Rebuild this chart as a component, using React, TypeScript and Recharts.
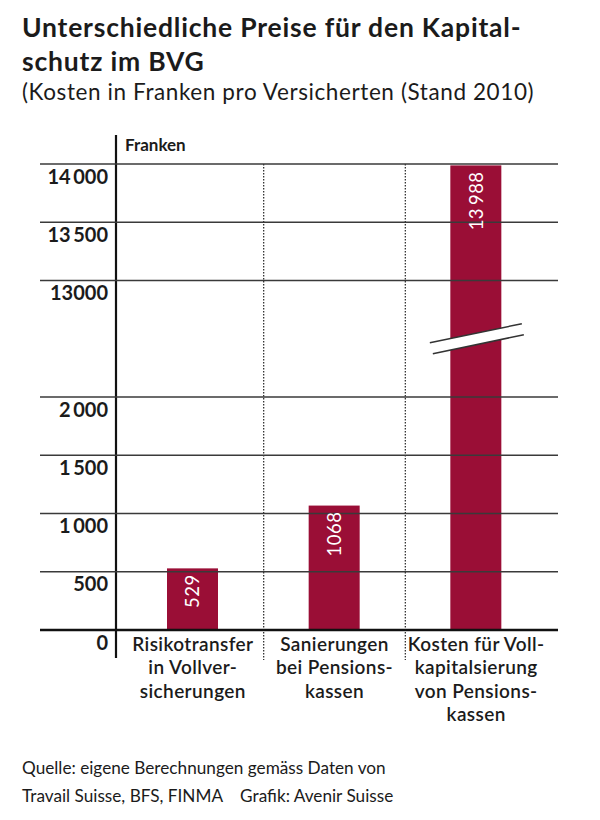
import React from "react";
import { BarChart, Bar, XAxis, YAxis, LabelList } from "recharts";

// ---- data ----
const categoryKeys = ["Risikotransfer", "Sanierungen", "Vollkapitalisierung"];
const categoryLines = [
  ["Risikotransfer", "in Vollver-", "sicherungen"],
  ["Sanierungen", "bei Pensions-", "kassen"],
  ["Kosten für Voll-", "kapitalsierung", "von Pensions-", "kassen"],
];
const values = [529, 1068, 13988];
const valueLabels = ["529", "1068", "13\u2009988"];
const tickValues = [0, 500, 1000, 1500, 2000, 13000, 13500, 14000];
const tickLabels = ["0", "500", "1\u2009000", "1\u2009500", "2\u2009000", "13000", "13\u2009500", "14\u2009000"];
const axisMax = 14000;

// axis break: values between BREAK_FROM and BREAK_TO are collapsed to BREAK_SPAN units
const BREAK_FROM = 2000;
const BREAK_TO = 13000;
const BREAK_SPAN = 1000;

const toAxis = (v: number) =>
  v <= BREAK_FROM
    ? v
    : v >= BREAK_TO
    ? v - (BREAK_TO - BREAK_FROM) + BREAK_SPAN
    : BREAK_FROM + ((v - BREAK_FROM) / (BREAK_TO - BREAK_FROM)) * BREAK_SPAN;

const data = categoryKeys.map((k, i) => ({
  name: k,
  axisValue: toAxis(values[i]),
  value: values[i],
  label: valueLabels[i],
  lines: categoryLines[i],
  broken: values[i] > BREAK_TO,
}));

// ---- layout / style ----
const FONT = "Lato, 'Open Sans', sans-serif";
const TEXT = "#1b1b1b";
const BAR = "#9a0e36";
const GRID = "#3a3a3a";
const W = 600;
const H = 820;
const M = { top: 164, right: 42, bottom: 90, left: 40 };
const YAXIS_W = 76;
const XAXIS_H = 100;
const PAD_L = 6;
const PAD_R = 11;
const PLOT_LEFT = M.left + YAXIS_W;
const PLOT_RIGHT = W - M.right;
const PLOT_TOP = M.top;
const PLOT_BOTTOM = H - M.bottom - XAXIS_H;
const BAND = (PLOT_RIGHT - PLOT_LEFT - PAD_L - PAD_R) / categoryKeys.length;

const YTick = (props: any) => {
  const { y, payload } = props;
  const idx = tickValues.findIndex((t) => toAxis(t) === payload.value);
  const label = idx >= 0 ? tickLabels[idx] : "";
  const isZero = payload.value === 0;
  return (
    <g>
      <line
        x1={M.left}
        x2={PLOT_RIGHT}
        y1={y}
        y2={y}
        stroke={isZero ? "#111" : GRID}
        strokeWidth={isZero ? 2.6 : 1.4}
      />
      {isZero && (
        <line x1={PLOT_LEFT} x2={PLOT_LEFT} y1={PLOT_TOP - 29} y2={y + 28} stroke="#111" strokeWidth={2.2} />
      )}
      <text
        x={PLOT_LEFT - 8}
        y={y + 19.5}
        textAnchor="end"
        fontFamily={FONT}
        fontWeight={700}
        fontSize={20}
        fill={TEXT}
      >
        {label}
      </text>
    </g>
  );
};

const XTick = (props: any) => {
  const { x, index, payload } = props;
  const entry = data.find((d) => d.name === payload.value);
  const lines = entry ? entry.lines : [];
  return (
    <g>
      {index < categoryKeys.length - 1 && (
        <line
          x1={x + BAND / 2}
          x2={x + BAND / 2}
          y1={PLOT_TOP}
          y2={PLOT_BOTTOM + 30}
          stroke="#333"
          strokeWidth={1.3}
          strokeDasharray="1.5 1.5"
        />
      )}
      {lines.map((l: string, i: number) => (
        <text
          key={i}
          x={x}
          y={PLOT_BOTTOM + 21 + i * 23.3}
          textAnchor="middle"
          fontFamily={FONT}
          fontWeight={600}
          fontSize={19}
          letterSpacing={0.4}
          fill={TEXT}
        >
          {l}
        </text>
      ))}
    </g>
  );
};

const BarShape = (props: any) => {
  const { x, y, width, height, payload } = props;
  const els: any[] = [<rect key="r" x={x} y={y} width={width} height={height} fill={BAR} />];
  if (payload && payload.broken) {
    const px = height / payload.axisValue;
    const mid = y + height - (BREAK_FROM + BREAK_SPAN / 2) * px;
    const cx = x + width / 2;
    const c1 = mid - 5.5;
    const c2 = mid + 5.5;
    els.push(
      <polygon
        key="p"
        points={`${cx - 46},${c1 + 9.5} ${cx + 46},${c1 - 9.5} ${cx + 48},${c2 - 9.5} ${cx - 43},${c2 + 9.5}`}
        fill="#fff"
      />,
      <line key="l1" x1={cx - 46} y1={c1 + 9.5} x2={cx + 46} y2={c1 - 9.5} stroke="#333" strokeWidth={1.5} />,
      <line key="l2" x1={cx - 43} y1={c2 + 9.5} x2={cx + 48} y2={c2 - 9.5} stroke="#333" strokeWidth={1.5} />
    );
  }
  return <g>{els}</g>;
};

const ValueLabel = (props: any) => {
  const { x, y, width, value } = props;
  const tx = x + width / 2 + 6.7;
  const ty = y + 6;
  return (
    <text
      transform={`translate(${tx}, ${ty}) rotate(-90)`}
      textAnchor="end"
      fontFamily={FONT}
      fontSize={18.5}
      letterSpacing={0.5}
      fill="#fff"
    >
      {value}
    </text>
  );
};

export default function App() {
  return (
    <div style={{ position: "absolute", left: 0, top: 0, width: W, height: H, background: "#fff" }}>
      <div style={{ position: "absolute", left: 0, top: 0 }}>
        <BarChart width={W} height={H} data={data} margin={M} barSize={51}>
          <XAxis
            dataKey="name"
            type="category"
            height={XAXIS_H}
            axisLine={false}
            tickLine={false}
            interval={0}
            padding={{ left: PAD_L, right: PAD_R }}
            tick={<XTick />}
          />
          <YAxis
            type="number"
            width={YAXIS_W}
            domain={[0, toAxis(axisMax)]}
            ticks={tickValues.map(toAxis)}
            interval={0}
            axisLine={false}
            tickLine={false}
            tick={<YTick />}
          />
          <Bar dataKey="axisValue" isAnimationActive={false} shape={<BarShape />}>
            <LabelList dataKey="label" content={<ValueLabel />} />
          </Bar>
        </BarChart>
      </div>
      <div
        style={{
          position: "absolute",
          left: 22,
          top: 10,
          fontFamily: FONT,
          fontWeight: 700,
          fontSize: 26.5,
          letterSpacing: 0.8,
          lineHeight: "34px",
          color: TEXT,
          whiteSpace: "nowrap",
        }}
      >
        Unterschiedliche Preise für den Kapital-
        <br />
        schutz im BVG
      </div>
      <div
        style={{
          position: "absolute",
          left: 22,
          top: 78,
          fontFamily: FONT,
          fontSize: 22.5,
          letterSpacing: 0.6,
          lineHeight: "27px",
          color: TEXT,
          whiteSpace: "nowrap",
        }}
      >
        (Kosten in Franken pro Versicherten (Stand 2010)
      </div>
      <div
        style={{
          position: "absolute",
          left: 125,
          top: 135,
          fontFamily: FONT,
          fontWeight: 700,
          fontSize: 17,
          lineHeight: "20px",
          color: TEXT,
        }}
      >
        Franken
      </div>
      <div
        style={{
          position: "absolute",
          left: 22,
          top: 754,
          fontFamily: FONT,
          fontSize: 17.2,
          lineHeight: "28px",
          color: TEXT,
          whiteSpace: "nowrap",
        }}
      >
        Quelle: eigene Berechnungen gemäss Daten von
        <br />
        Travail Suisse, BFS, FINMA&nbsp;&nbsp;&nbsp; Grafik: Avenir Suisse
      </div>
    </div>
  );
}
